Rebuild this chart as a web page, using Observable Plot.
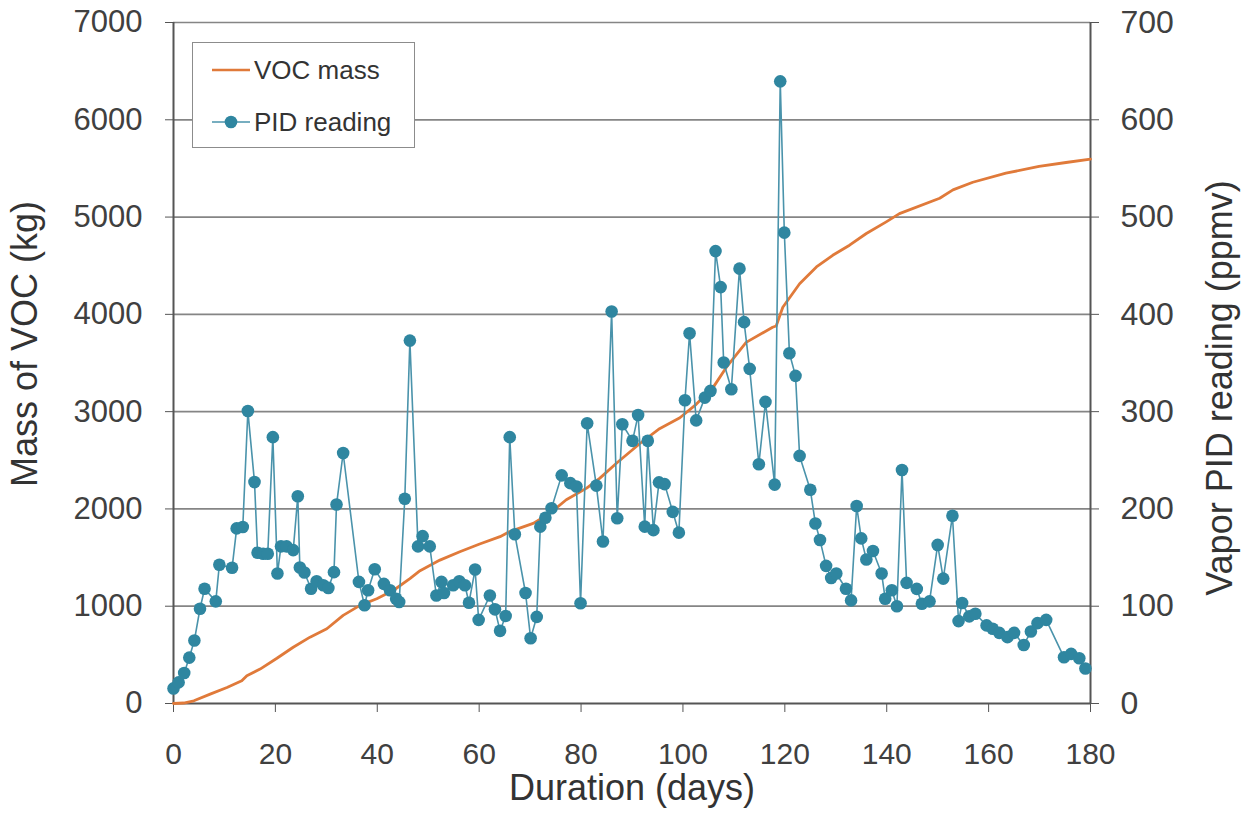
<!DOCTYPE html>
<html>
<head>
<meta charset="utf-8">
<script src="https://cdn.jsdelivr.net/npm/d3@7"></script>
<script src="https://cdn.jsdelivr.net/npm/@observablehq/plot@0.6"></script>
<style>
  html, body { margin: 0; padding: 0; background: #fff; }
  #wrap { position: relative; width: 1250px; height: 816px; font-family: "Liberation Sans", Arial, sans-serif; }
  #legend { position: absolute; left: 192px; top: 42px; width: 221px; height: 104px; background: #fff; border: 1.5px solid #8c8c8c; }
</style>
</head>
<body>
<div id="wrap">
  <div id="chart"></div>
  <div id="legend">
    <svg width="221" height="104" style="font-family:'Liberation Sans', Arial, sans-serif">
      <line x1="19" x2="57" y1="27" y2="27" stroke="#e07a3a" stroke-width="2.5"></line>
      <text x="61" y="36" font-size="26" fill="#333">VOC mass</text>
      <line x1="19" x2="57" y1="79" y2="79" stroke="#4a93ab" stroke-width="1.6"></line>
      <circle cx="38" cy="79" r="6.3" fill="#2f86a0"></circle>
      <text x="61" y="88" font-size="26" fill="#333">PID reading</text>
    </svg>
  </div>
</div>
<script>
// ---- data ----
const pidDays = [0,1.0,2.1,3.1,4.1,5.2,6.1,8.3,9.0,11.5,12.4,13.6,14.6,15.9,16.5,17.6,18.5,19.5,20.4,21.1,22.2,23.5,24.4,24.8,25.7,27.0,28.1,29.4,30.4,31.5,32.0,33.3,36.4,37.5,38.2,39.5,41.3,42.5,43.7,44.3,45.4,46.4,48.0,48.9,50.3,51.6,52.6,53.1,54.9,56.1,57.2,58.0,59.2,59.9,62.1,63.1,64.1,65.2,66.0,67.0,69.1,70.1,71.3,72.0,73.0,74.2,76.2,77.9,79.1,79.9,81.2,83.0,84.3,86.0,87.1,88.1,90.1,91.2,92.5,93.1,94.2,95.3,96.4,98.0,99.2,100.4,101.3,102.6,104.3,105.4,106.4,107.4,108.0,109.5,111.1,112.0,113.1,114.9,116.2,118.0,119.1,119.9,120.9,122.1,122.9,125.0,126.0,126.9,128.1,129.1,130.1,132.0,133.0,134.1,135.0,136.0,137.3,139.0,139.7,141.0,142.0,143.0,143.9,145.9,146.9,148.4,150.0,151.1,152.9,154.1,154.8,156.2,157.4,159.6,160.8,162.1,163.7,165.0,166.9,168.3,169.6,171.3,174.8,176.2,177.8,179.0];
const pidPpmv = [15.5,21.7,31.3,47.2,64.8,97.4,118,105,142.6,139.5,180,181.5,300.6,227.6,155,154,154,273.8,133.6,161.5,161.5,157.7,213,139.8,134.6,118,125.7,121.6,118.8,135,204.5,257.5,125,101,116.4,138,123,116.4,107.7,104.3,210.4,373,161.5,172,161.5,111,125,113.6,121.6,125.7,121.6,103.6,137.7,86,111,96.8,74.7,90,273.8,173.9,113.6,67,89,181.8,191,200.7,234.5,226.5,223,103,288,224,166.5,403,190.4,287,270,296.5,181.8,270,178.2,227.3,225.5,197,175.6,311.7,380.5,291,314.4,321.3,465,428,350.5,323,447,392,344,246,310,225,639.5,484,360,336.8,254.5,219.7,185,168,141.5,129,133.6,118,106,203,169.7,148,156.7,133.6,107.7,116.4,100,240,124,117.8,102.6,105,163,128.4,193,84.7,103.3,89.6,92.3,80.3,76.8,72.6,68.2,72.6,60.2,74,82.6,86,47.5,51,46.5,36];

const vocDays = [0,2,4,7.2,10.5,13.4,14.4,17,20.3,23.5,26.8,30.1,33.3,36.6,39.9,43.2,46.4,48.4,52.3,56.2,60.1,64.1,66,70.6,73.9,77.1,81.1,83.7,87,91.5,95.4,99.4,102.6,105.9,108.5,112.4,117.6,118.3,119.6,122.9,126.2,129.4,132.7,136,139.9,142.5,150.4,153,156.9,163.4,169.9,175.2,180];
const vocKg = [0,5,28,96,165,234,286,354,465,578,682,768,906,1009,1077,1164,1284,1365,1474,1560,1640,1715,1767,1852,1956,2094,2214,2317,2472,2670,2825,2937,3075,3247,3454,3712,3867,3880,4073,4315,4487,4607,4711,4831,4951,5035,5193,5279,5358,5451,5520,5561,5596];

const xTicks = [0,20,40,60,80,100,120,140,160,180];
const kgTicks = [0,1000,2000,3000,4000,5000,6000,7000];
const ppmvTicks = [0,100,200,300,400,500,600,700];

// ---- tables ----
const pid = pidDays.map((d, i) => ({day: d, ppmv: pidPpmv[i]}));
const voc = vocDays.map((d, i) => ({day: d, kg: vocKg[i]}));
const ppmvToKg = 10; // right axis 0–700 ppmv maps to left 0–7000 kg

const orange = "#e07a3a";
const teal = "#2f86a0";
const tealLine = "#4a93ab";

const chart = Plot.plot({
  width: 1250,
  height: 816,
  marginLeft: 173,
  marginRight: 160,
  marginTop: 22,
  marginBottom: 113,
  style: {fontFamily: "'Liberation Sans', Arial, sans-serif", fontSize: "31px", color: "#404040", background: "#fff"},
  x: {domain: [0, 180]},
  y: {domain: [0, 7000]},
  marks: [
    Plot.gridY(kgTicks.filter(d => d > 0), {stroke: "#858585", strokeOpacity: 1, strokeWidth: 1.7}),
    Plot.axisY(kgTicks, {anchor: "left", tickSize: 8, tickPadding: 23, fontSize: 31, label: null, stroke: "#555", tickFormat: d => String(d)}),
    Plot.axisY(ppmvTicks.map(v => v * ppmvToKg), {anchor: "right", tickSize: 8, tickPadding: 22, fontSize: 32, label: null, tickFormat: d => String(d / ppmvToKg), stroke: "#555"}),
    Plot.axisX(xTicks, {anchor: "bottom", tickSize: 9, tickPadding: 30, fontSize: 30, label: null, stroke: "#555", tickFormat: d => String(d)}),
    Plot.ruleX([0, 180], {stroke: "#555", strokeWidth: 2}),
    Plot.ruleY([0], {stroke: "#555", strokeWidth: 2}),
    Plot.line(voc, {x: "day", y: "kg", stroke: orange, strokeWidth: 2.8}),
    Plot.line(pid, {x: "day", y: d => d.ppmv * ppmvToKg, stroke: tealLine, strokeWidth: 1.6}),
    Plot.dot(pid, {x: "day", y: d => d.ppmv * ppmvToKg, r: 6.3, fill: teal, stroke: null}),
    Plot.text(["Duration (days)"], {frameAnchor: "bottom", textAnchor: "middle", lineAnchor: "middle", dy: 85, fontSize: 36, fill: "#333"}),
    Plot.text(["Mass of VOC (kg)"], {frameAnchor: "left", textAnchor: "middle", lineAnchor: "middle", dx: -148, dy: -19, rotate: -90, fontSize: 36, fill: "#333"}),
    Plot.text(["Vapor PID reading (ppmv)"], {frameAnchor: "right", textAnchor: "middle", lineAnchor: "middle", dx: 130, dy: 25, rotate: -90, fontSize: 36, fill: "#333"})
  ]
});
document.getElementById("chart").appendChild(chart);
</script>
</body>
</html>
